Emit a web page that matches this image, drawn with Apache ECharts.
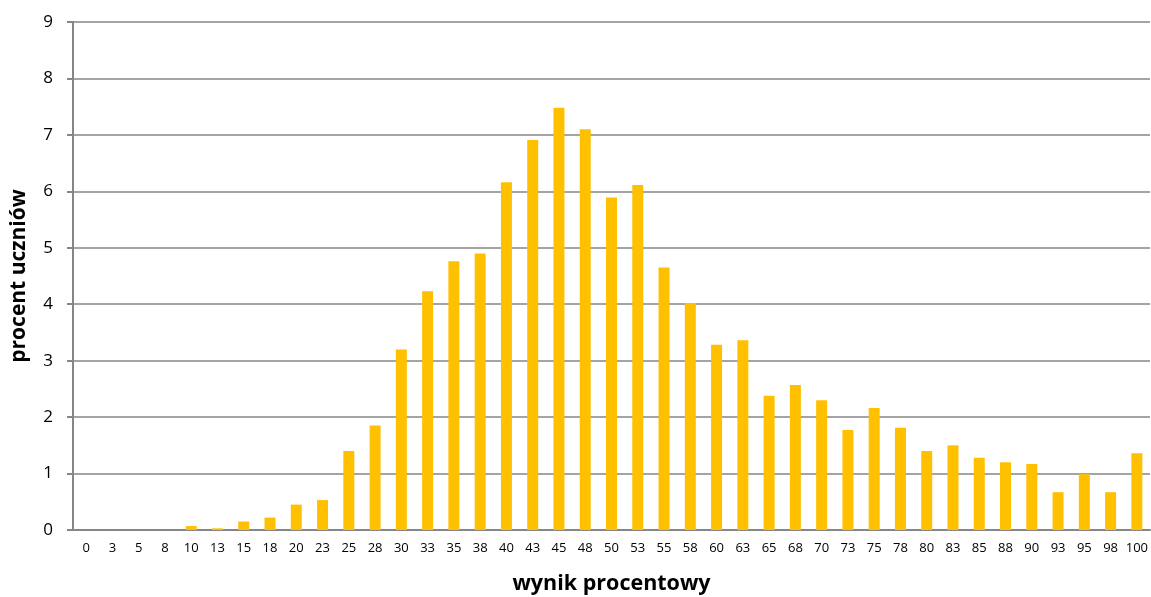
<!DOCTYPE html>
<html>
<head>
<meta charset="utf-8">
<script src="https://cdn.jsdelivr.net/npm/echarts@6/dist/echarts.min.js"></script>
<style>
  html, body { margin: 0; padding: 0; background: #fff; }
  #chart { width: 1151px; height: 597px; }
</style>
</head>
<body>
<div id="chart"></div>
<script>
// wynik procentowy (kategorie osi X)
const categories = ['0', '3', '5', '8', '10', '13', '15', '18', '20', '23', '25', '28', '30', '33', '35', '38', '40', '43', '45', '48',
  '50', '53', '55', '58', '60', '63', '65', '68', '70', '73', '75', '78', '80', '83', '85', '88', '90', '93', '95', '98', '100'];
// procent uczniów
const values = [0, 0, 0, 0, 0.07, 0.03, 0.15, 0.22, 0.45, 0.53, 1.4, 1.85, 3.2, 4.23, 4.76, 4.9, 6.16, 6.91, 7.48, 7.1,
  5.89, 6.11, 4.65, 4.02, 3.28, 3.36, 2.38, 2.57, 2.3, 1.77, 2.16, 1.81, 1.4, 1.5, 1.28, 1.2, 1.17, 0.67, 0.99, 0.67, 1.36];

const chart = echarts.init(document.getElementById('chart'));
const font = 'Open Sans';

chart.setOption({
  animation: false,
  textStyle: { fontFamily: font },
  grid: { left: 73, right: 1, top: 22, bottom: 67, outerBoundsMode: 'none', containLabel: false },
  xAxis: {
    type: 'category',
    data: categories,
    name: 'wynik procentowy',
    nameLocation: 'middle',
    nameGap: 43,
    nameTextStyle: { fontSize: 21.5, fontWeight: 'bold', color: '#000', fontFamily: font },
    axisLine: { lineStyle: { color: '#868686', width: 2 } },
    axisTick: { show: false },
    axisLabel: { interval: 0, fontSize: 13, color: '#000', margin: 12 }
  },
  yAxis: {
    type: 'value',
    min: 0,
    max: 9,
    interval: 1,
    name: 'procent uczniów',
    nameLocation: 'middle',
    nameGap: 43,
    nameTextStyle: { fontSize: 21, fontWeight: 'bold', color: '#000', fontFamily: font },
    axisLine: { show: true, lineStyle: { color: '#868686', width: 2 } },
    axisTick: { show: true, length: 6, lineStyle: { color: '#868686', width: 2 } },
    axisLabel: { fontSize: 17, color: '#000', margin: 20 },
    splitLine: { lineStyle: { color: '#868686', width: 1.5 } }
  },
  series: [{
    type: 'bar',
    data: values,
    barWidth: 11,
    itemStyle: { color: '#FFC000' }
  }]
});
</script>
</body>
</html>
